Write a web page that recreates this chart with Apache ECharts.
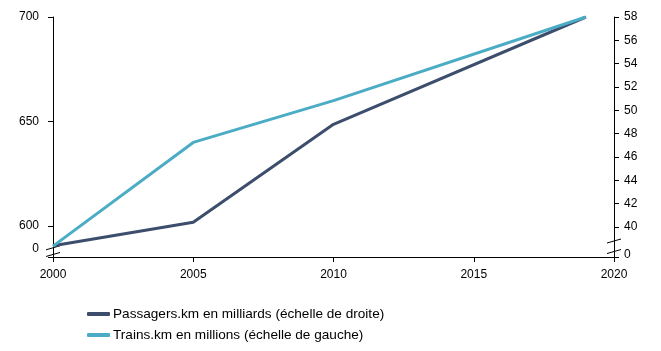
<!DOCTYPE html>
<html>
<head>
<meta charset="utf-8">
<script src="https://cdn.jsdelivr.net/npm/echarts@6/dist/echarts.min.js"></script>
<style>
  html, body { margin: 0; padding: 0; background: #fff; }
  #chart { width: 661px; height: 351px; }
</style>
</head>
<body>
<div id="chart"></div>
<script>
// data
var years = [2000, 2005, 2010, 2019];
var passagersKm = [38.4, 40.4, 48.8, 58];   // milliards, right scale
var trainsKm = [590.4, 640, 660, 700];      // millions, left scale

var leftTicks = [585.2, 600, 650, 700];     // first one is the fake "0"
var rightTicks = [37.43, 40, 42, 44, 46, 48, 50, 52, 54, 56, 58];

var navy = '#3C4E6C';
var teal = '#4BACC6';
var font = 'Liberation Sans';

function pairs(xs, ys) {
    var out = [];
    for (var i = 0; i < xs.length; i++) out.push([xs[i], ys[i]]);
    return out;
}

var chart = echarts.init(document.getElementById('chart'));

var axisBase = {
    axisLine: { show: true, lineStyle: { color: '#000', width: 1 } },
    axisTick: { show: true, length: 5, lineStyle: { color: '#000' } },
    splitLine: { show: false },
    axisLabel: { color: '#000', fontFamily: font, fontSize: 12 }
};

var option = {
    animation: false,
    backgroundColor: '#fff',
    grid: { left: 53, right: 47, top: 17, bottom: 94 },
    legend: {
        orient: 'vertical',
        left: 87,
        top: 307,
        padding: 0,
        itemGap: 7,
        itemWidth: 23,
        itemHeight: 4,
        icon: 'roundRect',
        textStyle: { color: '#000', fontFamily: font, fontSize: 13.6, padding: [0, 0, 0, -2] },
        data: ['Passagers.km en milliards (échelle de droite)', 'Trains.km en millions (échelle de gauche)']
    },
    xAxis: Object.assign({}, axisBase, {
        type: 'value',
        min: 2000,
        max: 2020,
        interval: 5,
        axisLabel: {
            color: '#000', fontFamily: font, fontSize: 12, margin: 12,
            formatter: function (v) { return String(v); }
        }
    }),
    yAxis: [
        Object.assign({}, axisBase, {
            type: 'value',
            position: 'left',
            min: leftTicks[0],
            max: 700,
            axisTick: { show: true, length: 5, lineStyle: { color: '#000' }, customValues: leftTicks },
            axisLabel: {
                color: '#000', fontFamily: font, fontSize: 12, margin: 14,
                customValues: leftTicks,
                formatter: function (v) { return v < 600 ? '{z|0}' : String(v); },
                rich: { z: { padding: [0, 0, 16, 0], fontFamily: font, fontSize: 12, color: '#000' } }
            }
        }),
        Object.assign({}, axisBase, {
            type: 'value',
            position: 'right',
            min: rightTicks[0],
            max: 58,
            axisTick: { show: true, length: 5, lineStyle: { color: '#000' }, customValues: rightTicks },
            axisLabel: {
                color: '#000', fontFamily: font, fontSize: 12, margin: 10,
                customValues: rightTicks,
                formatter: function (v) { return v < 40 ? '{z|0}' : String(v); },
                rich: { z: { padding: [0, 0, 4, 0], fontFamily: font, fontSize: 12, color: '#000' } }
            }
        })
    ],
    series: [
        {
            name: 'Passagers.km en milliards (échelle de droite)',
            type: 'line',
            yAxisIndex: 1,
            data: pairs(years, passagersKm),
            symbol: 'none',
            color: navy,
            lineStyle: { width: 3, color: navy }
        },
        {
            name: 'Trains.km en millions (échelle de gauche)',
            type: 'line',
            yAxisIndex: 0,
            data: pairs(years, trainsKm),
            symbol: 'none',
            color: teal,
            lineStyle: { width: 3, color: teal }
        }
    ]
};

chart.setOption(option);

// little "broken axis" marks on both vertical axes
function breakMarks(axisIndex, xVal, yVals) {
    var els = [];
    for (var i = 0; i < yVals.length; i++) {
        var p = chart.convertToPixel({ xAxisIndex: 0, yAxisIndex: axisIndex }, [xVal, yVals[i]]);
        els.push({
            type: 'line',
            shape: { x1: p[0] - 7, y1: p[1] + 2, x2: p[0] + 7, y2: p[1] - 2 },
            style: { stroke: '#000', lineWidth: 1 }
        });
    }
    return els;
}

chart.setOption({
    graphic: breakMarks(0, 2000, [589.6, 586.4]).concat(breakMarks(1, 2020, [38.8, 37.9]))
});
</script>
</body>
</html>
